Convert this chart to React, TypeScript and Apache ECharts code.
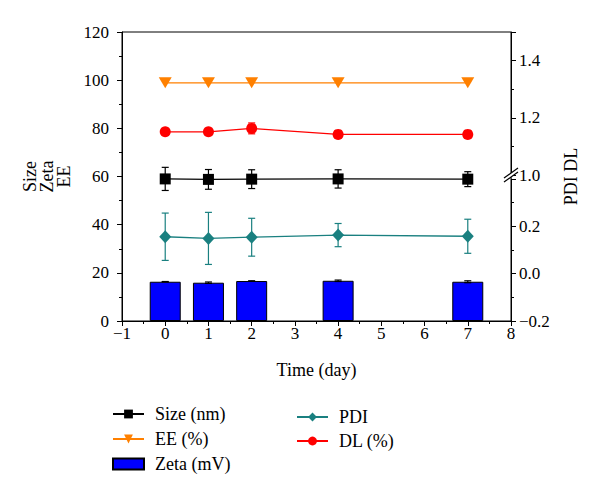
import React, { useEffect, useRef } from 'react';
import * as echarts from 'echarts';

const days = [0, 1, 2, 4, 7];
const sizeNm = [59.0, 58.8, 58.9, 59.0, 58.9];
const sizeErr = [4.8, 4.1, 3.9, 3.8, 3.1];
const eePct = [98.9, 98.9, 98.9, 98.9, 98.9];
const zetaMv = [16.3, 15.9, 16.6, 16.7, 16.3];
const zetaErr = [0.1, 0.3, 0.1, 0.3, 0.4];
const pdi = [0.156, 0.149, 0.154, 0.163, 0.158];
const pdiErr = [0.1, 0.11, 0.08, 0.049, 0.072];
const dlPct = [1.151, 1.151, 1.163, 1.142, 1.142];
const dlErr = [0.008, 0.008, 0.019, 0.006, 0.006];

const FONT = 'Liberation Serif';
const PLOT_L = 122;
const PLOT_T = 32;
const PLOT_W = 389;
const PLOT_H = 289;

const pts = (ys: number[]) => days.map((d, i) => [d, ys[i]]);
const errPts = (ys: number[], es: number[]) => days.map((d, i) => [d, ys[i] - es[i], ys[i] + es[i]]);

const errRender = (color: string) => (params: any, api: any) => {
  const x = api.value(0);
  const pLo = api.coord([x, api.value(1)]);
  const pHi = api.coord([x, api.value(2)]);
  const w = 3.5;
  const style = { stroke: color, lineWidth: 1.2 };
  return {
    type: 'group',
    children: [
      { type: 'line', shape: { x1: pLo[0], y1: pLo[1], x2: pHi[0], y2: pHi[1] }, style },
      { type: 'line', shape: { x1: pLo[0] - w, y1: pLo[1], x2: pLo[0] + w, y2: pLo[1] }, style },
      { type: 'line', shape: { x1: pHi[0] - w, y1: pHi[1], x2: pHi[0] + w, y2: pHi[1] }, style },
    ],
  };
};

const axisCommon = {
  axisLine: { show: true, onZero: false, lineStyle: { color: '#000', width: 1 } },
  axisTick: { show: true, length: 5, lineStyle: { color: '#000' } },
  minorTick: { show: true, splitNumber: 2, length: 3, lineStyle: { color: '#000' } },
  splitLine: { show: false },
  axisLabel: { color: '#000', fontFamily: FONT, fontSize: 17 },
};

const fmt = (v: number) => {
  const s = Math.abs(v).toFixed(1);
  return v < -1e-9 ? '\u2212' + s : s;
};

export default function App() {
  const ref = useRef<HTMLDivElement>(null);
  useEffect(() => {
    const chart = echarts.init(ref.current!, null, { renderer: 'svg' });
    const hiddenX = {
      type: 'value', min: -1, max: 8, interval: 1, show: false,
      axisLine: { show: false, onZero: false },
    };
    const option: any = {
      animation: false,
      backgroundColor: '#fff',
      grid: [
        { left: PLOT_L, top: PLOT_T, width: PLOT_W, height: PLOT_H, show: true, borderColor: '#000', borderWidth: 1 },
        { left: PLOT_L, top: 179, width: PLOT_W, height: PLOT_T + PLOT_H - 179 },
        { left: PLOT_L, top: PLOT_T, width: PLOT_W, height: 175 - PLOT_T },
      ],
      xAxis: [
        {
          ...axisCommon, type: 'value', gridIndex: 0, min: -1, max: 8, interval: 1,
          axisLabel: { ...axisCommon.axisLabel, margin: 4, formatter: (v: number) => (v < 0 ? '\u2212' + Math.abs(v) : String(v)) },
          name: 'Time (day)', nameLocation: 'middle', nameGap: 40,
          nameTextStyle: { color: '#000', fontFamily: FONT, fontSize: 18 },
        },
        { ...hiddenX, gridIndex: 1 },
        { ...hiddenX, gridIndex: 2 },
      ],
      yAxis: [
        {
          ...axisCommon, type: 'value', gridIndex: 0, min: 0, max: 120, interval: 20, position: 'left',
          axisLabel: { ...axisCommon.axisLabel, margin: 13 },
          name: 'Size\nZeta\nEE', nameLocation: 'middle', nameGap: 50, nameRotate: 90,
          nameTextStyle: { color: '#000', fontFamily: FONT, fontSize: 18, lineHeight: 17 },
        },
        {
          ...axisCommon, type: 'value', gridIndex: 1, min: -0.2, max: 0.4, interval: 0.2, position: 'right',
          axisLabel: { ...axisCommon.axisLabel, margin: 8, formatter: (v: number) => (v > 0.3 ? '' : fmt(v)) },
        },
        {
          ...axisCommon, type: 'value', gridIndex: 2, min: 1.0, max: 1.5, interval: 0.2, position: 'right',
          axisLabel: { ...axisCommon.axisLabel, margin: 8, formatter: (v: number) => (v > 1.45 ? '' : fmt(v)) },
        },
        {
          type: 'value', gridIndex: 0, min: 0, max: 120, position: 'right',
          axisLine: { show: false, onZero: false }, axisTick: { show: false }, axisLabel: { show: false }, splitLine: { show: false },
          name: 'PDI DL', nameLocation: 'middle', nameGap: 51, nameRotate: 90,
          nameTextStyle: { color: '#000', fontFamily: FONT, fontSize: 18 },
        },
      ],
      legend: [
        {
          data: ['Size (nm)', 'EE (%)', { name: 'Zeta (mV)', icon: 'rect' }],
          orient: 'vertical', left: 112, top: 405, padding: 0, itemGap: 7,
          itemWidth: 31, itemHeight: 11,
          textStyle: { color: '#000', fontFamily: FONT, fontSize: 18, padding: [0, 0, 0, 6] },
        },
        {
          data: ['PDI', 'DL (%)'],
          orient: 'vertical', left: 296, top: 408, padding: 0, itemGap: 6,
          itemWidth: 31, itemHeight: 11,
          textStyle: { color: '#000', fontFamily: FONT, fontSize: 18, padding: [0, 0, 0, 6] },
        },
      ],
      graphic: [
        {
          type: 'polygon', z: 100,
          shape: { points: [[504, 182], [518, 172], [518, 168], [504, 178]] },
          style: { fill: '#fff' },
        },
        { type: 'line', z: 101, shape: { x1: 504, y1: 182, x2: 518, y2: 172 }, style: { stroke: '#000', lineWidth: 1.2 } },
        { type: 'line', z: 101, shape: { x1: 504, y1: 178, x2: 518, y2: 168 }, style: { stroke: '#000', lineWidth: 1.2 } },
      ],
      series: [
        {
          name: 'Zeta (mV)', type: 'bar', xAxisIndex: 0, yAxisIndex: 0, data: pts(zetaMv), barWidth: 31,
          itemStyle: { color: '#0000ff', borderColor: '#000', borderWidth: 1 }, z: 2,
        },
        {
          type: 'custom', xAxisIndex: 0, yAxisIndex: 0, data: errPts(zetaMv, zetaErr),
          renderItem: errRender('#000'), encode: { x: 0, y: [1, 2] }, z: 3, silent: true,
        },
        {
          type: 'custom', xAxisIndex: 0, yAxisIndex: 0, data: errPts(sizeNm, sizeErr),
          renderItem: errRender('#000'), encode: { x: 0, y: [1, 2] }, z: 3, silent: true,
        },
        {
          type: 'custom', xAxisIndex: 1, yAxisIndex: 1, data: errPts(pdi, pdiErr),
          renderItem: errRender('#1a8080'), encode: { x: 0, y: [1, 2] }, z: 3, silent: true,
        },
        {
          type: 'custom', xAxisIndex: 2, yAxisIndex: 2, data: errPts(dlPct, dlErr),
          renderItem: errRender('#ff0000'), encode: { x: 0, y: [1, 2] }, z: 3, silent: true,
        },
        {
          name: 'Size (nm)', type: 'line', xAxisIndex: 0, yAxisIndex: 0, data: pts(sizeNm),
          symbol: 'rect', symbolSize: 11, color: '#000', lineStyle: { width: 1.3, color: '#000' },
          itemStyle: { color: '#000' }, z: 5,
        },
        {
          name: 'EE (%)', type: 'line', xAxisIndex: 0, yAxisIndex: 0, data: pts(eePct),
          symbol: 'triangle', symbolRotate: 180, symbolSize: [13, 11], color: '#ff8000',
          lineStyle: { width: 1.3, color: '#ff8000' }, itemStyle: { color: '#ff8000' }, z: 5,
        },
        {
          name: 'PDI', type: 'line', xAxisIndex: 1, yAxisIndex: 1, data: pts(pdi),
          symbol: 'diamond', symbolSize: [12, 13], color: '#1a8080',
          lineStyle: { width: 1.3, color: '#1a8080' }, itemStyle: { color: '#1a8080' }, z: 5,
        },
        {
          name: 'DL (%)', type: 'line', xAxisIndex: 2, yAxisIndex: 2, data: pts(dlPct),
          symbol: 'circle', symbolSize: 11, color: '#ff0000',
          lineStyle: { width: 1.3, color: '#ff0000' }, itemStyle: { color: '#ff0000' }, z: 5,
        },
      ],
    };
    chart.setOption(option);
    return () => chart.dispose();
  }, []);
  return <div ref={ref} style={{ position: 'fixed', left: 0, top: 0, width: 600, height: 496 }} />;
}
